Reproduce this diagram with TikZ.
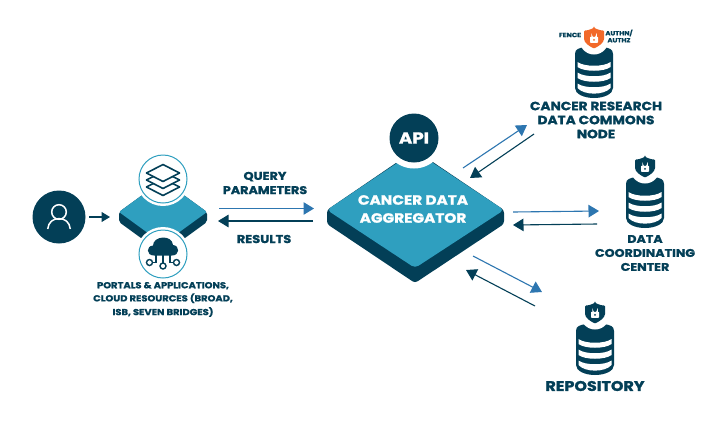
\documentclass[tikz,border=0pt]{standalone}
\usepackage{fontspec}
\setmainfont{Poppins}[BoldFeatures={FakeStretch=1.14,FakeBold=1.3}]
\usetikzlibrary{arrows.meta}
\definecolor{navy}{HTML}{033F57}
\definecolor{teal}{HTML}{2F9FBF}
\definecolor{azure}{HTML}{2D76B0}
\definecolor{flame}{HTML}{F2692A}
\tikzset{
  lab/.style={font=\bfseries\fontsize{#1}{#1}\selectfont,text=navy,inner sep=0pt,align=center},
  inv/.style={font=\bfseries\fontsize{#1}{#1}\selectfont,text=white,inner sep=0pt,align=center},
  blueflow/.style={draw=azure,line width=1.1pt,-{Triangle[length=10.5pt,width=12.5pt]}},
  darkflow/.style={draw=navy,line width=1.1pt,-{Triangle[length=10.5pt,width=12.5pt]}},
  iconring/.style={circle,draw=teal,fill=white,line width=1pt,minimum size=48pt,inner sep=0pt},
}
% shield: #1 position, #2 colour
\newcommand{\shieldicon}[2]{%
  \begin{scope}[shift={#1}]
    \fill[white] (0,2) circle (14.5);
    \fill[#2,rounded corners=1pt] (0,-10.5) .. controls (3,-8.5) and (7,-7.5) .. (10,-7.5)
      -- (10,0) .. controls (10,5) and (4,8.5) .. (0,10.5)
      .. controls (-4,8.5) and (-10,5) .. (-10,0) -- (-10,-7.5)
      .. controls (-7,-7.5) and (-3,-8.5) .. (0,-10.5) -- cycle;
    \draw[white,line width=.9pt] (-2.3,-1) -- (-2.3,-2.6) arc[start angle=180,end angle=0,radius=2.3] -- (2.3,-1);
    \fill[white,rounded corners=.6pt] (-4,-1.2) rectangle (4,4.8);
    \fill[#2] (0,1.8) circle (1);
  \end{scope}}
% database drum: #1 position of the top centre
\newcommand{\dbicon}[1]{%
  \begin{scope}[shift={#1}]
    \fill[navy] (-19,7) .. controls (-19,2) and (-15,1) .. (-9,0) -- (9,0)
      .. controls (15,1) and (19,2) .. (19,7) -- (19,41)
      .. controls (19,47) and (10,51) .. (0,51) .. controls (-10,51) and (-19,47) .. (-19,41) -- cycle;
    \fill[white] (-16.5,15) .. controls (-10,20) and (10,20) .. (16.5,15) -- (16.5,20)
      .. controls (10,25) and (-10,25) .. (-16.5,20) -- cycle;
    \fill[white] (-16.5,25.5) .. controls (-10,30.5) and (10,30.5) .. (16.5,25.5) -- (16.5,31)
      .. controls (10,36) and (-10,36) .. (-16.5,31) -- cycle;
    \fill[white] (-16.5,36.5) .. controls (-10,41.5) and (10,41.5) .. (16.5,36.5) -- (16.5,41)
      .. controls (10,48.5) and (-10,48.5) .. (-16.5,41) -- cycle;
  \end{scope}}
\begin{document}
\begin{tikzpicture}[x=1pt,y=-1pt]
\useasboundingbox (0,0) rectangle (725,424);
\fill[white] (0,0) rectangle (725,424);

% user
\node[circle,fill=navy,minimum size=53pt,inner sep=0pt] (user) at (59,217) {};
\draw[white,line width=1.5pt] (59,212) circle (7.3);
\draw[white,line width=1.5pt] (47.7,229) .. controls (48.5,222) and (53,218.6) .. (59,218.6)
   .. controls (65,218.6) and (69.5,222) .. (70.3,229);

% small platform
\fill[navy,rounded corners=2pt] (119,212) -- (119,222) -- (163,254) -- (207,222) -- (207,212) -- (163,180) -- cycle;
\fill[teal,rounded corners=2pt] (119,212) -- (163,180) -- (207,212) -- (163,244) -- cycle;
\coordinate (portalL) at (110,217);
\draw[darkflow,-{Triangle[length=8.5pt,width=10pt]}] (user.east) ++(3.5,0) -- (portalL);

% layers icon
\fill[white] (163,179) circle (27);
\node[iconring] (layers) at (163,179) {};
\foreach \yy in {187,180,173}
  \draw[navy,fill=white,line width=1.6pt,line join=round] (146.5,\yy) -- (163,\yy-8.5) -- (179.5,\yy) -- (163,\yy+8.5) -- cycle;

% cloud icon
\fill[white] (163,254) circle (27);
\node[iconring] (cloud) at (163,254) {};
\fill[navy] (154,255.5) .. controls (146,255.5) and (146,246) .. (153,245.5)
  .. controls (153,236) and (172,234) .. (173,245)
  .. controls (180,245.5) and (180,255.5) .. (172,255.5) -- cycle;
\draw[navy,line width=1.3pt] (163,255) -- (163,263);
\draw[navy,line width=1.3pt] (156,255) -- (156,262.5) -- (152.5,262.5);
\draw[navy,line width=1.3pt] (170,255) -- (170,262.5) -- (173.5,262.5);
\draw[navy,fill=white,line width=1.4pt] (149.5,262.5) circle (3);
\draw[navy,fill=white,line width=1.4pt] (163,266) circle (3);
\draw[navy,fill=white,line width=1.4pt] (176.5,262.5) circle (3);

\node[lab=8.7] (portaltext) at (163,299.5) {PORTALS \& APPLICATIONS,\\[3pt]CLOUD RESOURCES (BROAD,\\[3pt]ISB, SEVEN BRIDGES)};

% aggregator platform
\fill[navy,rounded corners=3pt] (327,210) -- (327,224) -- (415,283) -- (504,224) -- (504,210) -- (415,150) -- cycle;
\fill[teal,rounded corners=4pt] (327,210) -- (415,151) -- (504,210) -- (415,268) -- cycle;
\fill[white] (414,138) circle (30.5);
\node[circle,fill=navy,minimum size=49pt,inner sep=0pt,font=\bfseries\fontsize{16}{16}\selectfont,text=white] (api) at (414,138) {API};
\node[inv=13.4] (agg) at (413,209) {CANCER DATA\\[4.6pt]AGGREGATOR};

% query / results
\coordinate (q1) at (219,208.5); \coordinate (q2) at (314,208.5);
\coordinate (r1) at (313,221); \coordinate (r2) at (218,221);
\draw[blueflow] (q1) -- (q2);
\draw[darkflow] (r1) -- (r2);
\node[lab=11.2] (qlab) at (265,183) {QUERY\\[3pt]PARAMETERS};
\node[lab=11.4] (rlab) at (264,239) {RESULTS};

% right-hand databases
\dbicon{(594,47)}
\shieldicon{(594,38)}{flame}
\node[lab=6.2] (fence) at (570,35) {FENCE};
\node[lab=6] (authn) at (619,36) {AUTHN/\\[1pt]AUTHZ};
\node[lab=12] (crdc) at (596,120) {CANCER RESEARCH\\[2pt]DATA COMMONS\\[2pt]NODE};

\dbicon{(645,177)}
\shieldicon{(645,167)}{navy}
\node[lab=11.1] (dcc) at (645,253) {DATA\\[2.9pt]COORDINATING\\[2.9pt]CENTER};

\dbicon{(595,324)}
\shieldicon{(595,313)}{navy}
\node[lab=14] (repo) at (595,386) {REPOSITORY};

% flows to and from the data stores
\coordinate (a1) at (463,168); \coordinate (a2) at (527,125);
\coordinate (a3) at (534,134); \coordinate (a4) at (470,178);
\coordinate (b1) at (513,212); \coordinate (b2) at (599,211);
\coordinate (b3) at (597,224); \coordinate (b4) at (513,225);
\coordinate (c1) at (473,256); \coordinate (c2) at (542,292);
\coordinate (c3) at (535,306); \coordinate (c4) at (466,270);
\draw[blueflow] (a1) -- (a2);
\draw[darkflow] (a3) -- (a4);
\draw[blueflow] (b1) -- (b2);
\draw[darkflow] (b3) -- (b4);
\draw[blueflow] (c1) -- (c2);
\draw[darkflow] (c3) -- (c4);
\end{tikzpicture}
\end{document}
